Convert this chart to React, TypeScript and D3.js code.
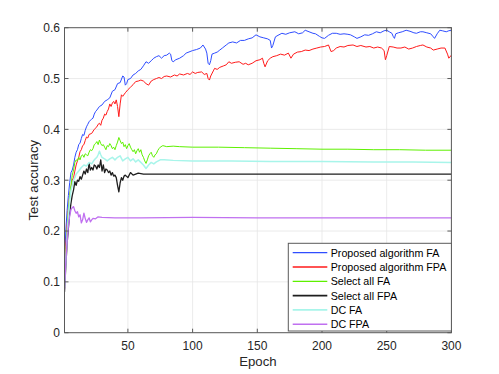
import * as d3 from "d3";
import { useEffect, useRef } from "react";

// [epoch, accuracy]
const proposedFA: [number, number][] = [
  [1, 0.14], [2, 0.2], [3, 0.24], [4, 0.27], [5, 0.295], [6, 0.315], [7, 0.32], [8, 0.33], [9, 0.345], [10, 0.355],
  [11, 0.36], [12, 0.37], [13, 0.373], [14, 0.382], [15, 0.39], [16, 0.388], [17, 0.398], [18, 0.405], [19, 0.41], [20, 0.415],
  [21, 0.418], [22, 0.42], [23, 0.422], [24, 0.43], [25, 0.435], [26, 0.438], [28, 0.445], [30, 0.448], [32, 0.455], [34, 0.458],
  [36, 0.462], [38, 0.475], [40, 0.478], [42, 0.49], [44, 0.492], [46, 0.505], [47, 0.503], [48, 0.487], [49, 0.49], [50, 0.498],
  [52, 0.5], [54, 0.507], [56, 0.51], [58, 0.515], [60, 0.518], [62, 0.525], [64, 0.533], [66, 0.53], [68, 0.535], [70, 0.54],
  [72, 0.543], [74, 0.545], [76, 0.54], [78, 0.545], [80, 0.546], [82, 0.55], [83, 0.548], [84, 0.535], [85, 0.533], [87, 0.537],
  [90, 0.54], [93, 0.545], [95, 0.55], [98, 0.553], [100, 0.555], [103, 0.557], [106, 0.56], [108, 0.566], [110, 0.558], [111, 0.55],
  [112, 0.53], [113, 0.527], [114, 0.535], [115, 0.548], [117, 0.55], [119, 0.552], [121, 0.556], [123, 0.56], [126, 0.566], [128, 0.57],
  [131, 0.572], [134, 0.57], [137, 0.575], [140, 0.575], [143, 0.578], [146, 0.58], [149, 0.586], [152, 0.582], [155, 0.58], [158, 0.578],
  [160, 0.575], [161, 0.56], [162, 0.565], [164, 0.582], [166, 0.585], [169, 0.589], [172, 0.587], [175, 0.59], [179, 0.592], [182, 0.588],
  [185, 0.59], [187, 0.595], [190, 0.592], [193, 0.589], [195, 0.588], [198, 0.583], [200, 0.58], [202, 0.579], [205, 0.585], [208, 0.589],
  [211, 0.589], [214, 0.587], [217, 0.588], [220, 0.587], [222, 0.586], [225, 0.582], [227, 0.579], [230, 0.582], [233, 0.586], [236, 0.585],
  [239, 0.588], [242, 0.592], [245, 0.59], [248, 0.594], [250, 0.595], [252, 0.592], [254, 0.589], [255, 0.583], [256, 0.579], [257, 0.588],
  [259, 0.59], [262, 0.592], [265, 0.595], [268, 0.593], [271, 0.59], [273, 0.589], [276, 0.592], [278, 0.592], [281, 0.59], [284, 0.588],
  [286, 0.582], [287, 0.579], [289, 0.588], [291, 0.595], [293, 0.594], [296, 0.592], [298, 0.594], [300, 0.595],
];

const proposedFPA: [number, number][] = [
  [1, 0.12], [2, 0.17], [3, 0.21], [4, 0.245], [5, 0.27], [6, 0.285], [7, 0.3], [8, 0.305], [9, 0.318], [10, 0.33],
  [11, 0.338], [12, 0.345], [13, 0.356], [14, 0.36], [15, 0.368], [16, 0.37], [17, 0.378], [18, 0.385], [19, 0.383], [20, 0.39],
  [22, 0.392], [24, 0.4], [26, 0.405], [27, 0.41], [28, 0.412], [29, 0.408], [30, 0.418], [31, 0.422], [32, 0.43], [33, 0.428],
  [34, 0.435], [35, 0.44], [36, 0.45], [37, 0.445], [38, 0.452], [39, 0.455], [40, 0.45], [41, 0.458], [42, 0.445], [43, 0.425],
  [44, 0.45], [45, 0.468], [46, 0.465], [48, 0.472], [50, 0.478], [52, 0.483], [54, 0.488], [56, 0.494], [58, 0.495], [60, 0.497],
  [62, 0.495], [64, 0.49], [66, 0.487], [68, 0.495], [70, 0.498], [72, 0.5], [74, 0.502], [76, 0.5], [78, 0.504], [80, 0.505],
  [83, 0.503], [86, 0.507], [88, 0.505], [90, 0.509], [93, 0.507], [96, 0.51], [98, 0.508], [100, 0.513], [102, 0.51], [104, 0.512],
  [107, 0.513], [109, 0.508], [111, 0.51], [112, 0.5], [113, 0.497], [114, 0.505], [116, 0.515], [117, 0.52], [119, 0.518], [121, 0.522],
  [124, 0.525], [126, 0.527], [128, 0.533], [130, 0.53], [133, 0.532], [136, 0.533], [139, 0.528], [141, 0.53], [143, 0.527], [146, 0.53],
  [149, 0.535], [152, 0.537], [154, 0.54], [155, 0.53], [156, 0.523], [158, 0.535], [160, 0.54], [162, 0.543], [165, 0.545], [168, 0.548],
  [171, 0.546], [174, 0.55], [176, 0.54], [178, 0.548], [181, 0.552], [184, 0.553], [187, 0.556], [190, 0.555], [193, 0.558], [196, 0.56],
  [199, 0.562], [202, 0.563], [205, 0.566], [207, 0.553], [209, 0.555], [211, 0.56], [214, 0.563], [217, 0.562], [220, 0.565], [224, 0.566],
  [227, 0.563], [230, 0.565], [234, 0.562], [237, 0.563], [240, 0.56], [243, 0.562], [246, 0.56], [248, 0.555], [249, 0.537], [250, 0.545],
  [252, 0.563], [255, 0.562], [258, 0.56], [261, 0.56], [264, 0.562], [267, 0.558], [270, 0.56], [273, 0.563], [276, 0.565], [278, 0.566],
  [281, 0.562], [284, 0.56], [286, 0.556], [289, 0.558], [292, 0.56], [295, 0.56], [297, 0.548], [298, 0.54], [300, 0.546],
];

const selectAllFA: [number, number][] = [
  [1, 0.1], [2, 0.15], [3, 0.2], [4, 0.24], [5, 0.27], [6, 0.29], [7, 0.31], [8, 0.32], [9, 0.335], [10, 0.34],
  [11, 0.338], [12, 0.345], [13, 0.34], [14, 0.348], [15, 0.35], [16, 0.345], [17, 0.352], [18, 0.35], [19, 0.348], [20, 0.355],
  [21, 0.36], [22, 0.358], [23, 0.362], [24, 0.37], [25, 0.372], [26, 0.376], [27, 0.37], [28, 0.379], [29, 0.372], [30, 0.368],
  [31, 0.37], [32, 0.365], [33, 0.36], [34, 0.368], [35, 0.366], [36, 0.372], [37, 0.368], [38, 0.362], [39, 0.365], [40, 0.36],
  [41, 0.368], [42, 0.375], [43, 0.384], [44, 0.378], [45, 0.372], [46, 0.375], [47, 0.366], [48, 0.37], [49, 0.362], [50, 0.368],
  [51, 0.372], [52, 0.365], [53, 0.36], [54, 0.356], [55, 0.36], [56, 0.352], [57, 0.358], [58, 0.362], [59, 0.355], [60, 0.36],
  [61, 0.35], [62, 0.345], [63, 0.338], [64, 0.333], [65, 0.34], [66, 0.348], [67, 0.352], [68, 0.355], [69, 0.348], [70, 0.345],
  [71, 0.35], [72, 0.352], [73, 0.358], [74, 0.362], [75, 0.365], [77, 0.368], [80, 0.366], [85, 0.367], [90, 0.366], [100, 0.365],
  [120, 0.365], [140, 0.364], [160, 0.363], [180, 0.362], [200, 0.361], [220, 0.361], [240, 0.36], [260, 0.36], [280, 0.359], [300, 0.359],
];

const selectAllFPA: [number, number][] = [
  [1, 0.08], [2, 0.13], [3, 0.175], [4, 0.205], [5, 0.235], [6, 0.255], [7, 0.27], [8, 0.281], [9, 0.297], [10, 0.29],
  [11, 0.3], [12, 0.298], [13, 0.307], [14, 0.302], [15, 0.31], [16, 0.318], [17, 0.312], [18, 0.322], [19, 0.315], [20, 0.333],
  [21, 0.32], [22, 0.325], [23, 0.32], [24, 0.33], [25, 0.328], [26, 0.322], [27, 0.33], [28, 0.325], [29, 0.34], [30, 0.318],
  [31, 0.33], [32, 0.315], [33, 0.322], [34, 0.32], [35, 0.315], [36, 0.318], [37, 0.31], [38, 0.315], [39, 0.308], [40, 0.31],
  [41, 0.305], [42, 0.29], [43, 0.277], [44, 0.295], [45, 0.305], [46, 0.3], [47, 0.308], [48, 0.31], [50, 0.305], [52, 0.315],
  [54, 0.31], [56, 0.312], [58, 0.314], [62, 0.312], [70, 0.312], [100, 0.312], [150, 0.312], [200, 0.312], [250, 0.312], [300, 0.312],
];

const dcFA: [number, number][] = [
  [1, 0.09], [2, 0.14], [3, 0.19], [4, 0.23], [5, 0.26], [6, 0.28], [7, 0.29], [8, 0.3], [9, 0.305], [10, 0.312],
  [12, 0.318], [14, 0.325], [16, 0.33], [18, 0.328], [20, 0.335], [22, 0.332], [24, 0.34], [26, 0.345], [27, 0.35], [28, 0.357],
  [29, 0.35], [30, 0.345], [32, 0.342], [34, 0.338], [36, 0.342], [38, 0.345], [40, 0.34], [42, 0.345], [44, 0.348], [46, 0.338],
  [48, 0.342], [50, 0.345], [52, 0.338], [54, 0.342], [56, 0.336], [58, 0.34], [60, 0.335], [62, 0.33], [64, 0.323], [66, 0.33],
  [68, 0.335], [70, 0.332], [72, 0.336], [75, 0.34], [78, 0.34], [85, 0.339], [100, 0.338], [130, 0.338], [160, 0.337], [200, 0.337],
  [240, 0.336], [270, 0.336], [300, 0.335],
];

const dcFPA: [number, number][] = [
  [1, 0.085], [2, 0.14], [3, 0.18], [4, 0.21], [5, 0.23], [6, 0.242], [7, 0.246], [8, 0.248], [9, 0.24], [10, 0.235],
  [11, 0.238], [12, 0.228], [13, 0.232], [14, 0.216], [15, 0.222], [16, 0.235], [17, 0.225], [18, 0.217], [19, 0.222], [20, 0.226],
  [21, 0.218], [22, 0.222], [23, 0.225], [25, 0.224], [27, 0.228], [30, 0.227], [40, 0.226], [60, 0.226], [100, 0.227], [150, 0.226],
  [200, 0.226], [250, 0.226], [300, 0.226],
];

const seriesNames = [
  "Proposed algorithm FA",
  "Proposed algorithm FPA",
  "Select all FA",
  "Select all FPA",
  "DC FA",
  "DC FPA",
];
const seriesColors = ["#2f4dff", "#ff1a1a", "#5ef000", "#1e1e1e", "#a8f5ea", "#c070f0"];
const seriesWidths = [1, 1, 1, 1.3, 1.5, 1.3];
const xTicks = [50, 100, 150, 200, 250, 300];
const yTicks = [0, 0.1, 0.2, 0.3, 0.4, 0.5, 0.6];

export default function App() {
  const ref = useRef<SVGSVGElement>(null);

  useEffect(() => {
    const W = 499;
    const H = 374;
    const left = 64.5, right = 451.4, top = 27.7, bottom = 332.7;
    const font = "'Liberation Sans', Arial, Helvetica, sans-serif";
    const axisColor = "#5a5a5a";

    const svg = d3.select(ref.current);
    svg.selectAll("*").remove();
    svg.attr("width", W).attr("height", H).attr("viewBox", `0 0 ${W} ${H}`);

    const x = d3.scaleLinear().domain([1, 300]).range([left, right]);
    const y = d3.scaleLinear().domain([0, 0.6]).range([bottom, top]);

    svg.append("rect").attr("width", W).attr("height", H).attr("fill", "#fff");

    // grid
    const grid = svg.append("g").attr("stroke", "#e6e6e6").attr("stroke-width", 0.8);
    grid.selectAll("line.gx").data(xTicks).join("line")
      .attr("x1", d => x(d)).attr("x2", d => x(d)).attr("y1", top).attr("y2", bottom);
    grid.selectAll("line.gy").data(yTicks).join("line")
      .attr("y1", d => y(d)).attr("y2", d => y(d)).attr("x1", left).attr("x2", right);

    svg.append("clipPath").attr("id", "plot-clip")
      .append("rect").attr("x", left).attr("y", top).attr("width", right - left).attr("height", bottom - top);

    const line = d3.line<[number, number]>().x(d => x(d[0])).y(d => y(d[1]));
    const all = [proposedFA, proposedFPA, selectAllFA, selectAllFPA, dcFA, dcFPA];
    const lines = svg.append("g").attr("clip-path", "url(#plot-clip)");
    all.forEach((s, i) => {
      lines.append("path")
        .attr("d", line(s))
        .attr("fill", "none")
        .attr("stroke", seriesColors[i])
        .attr("stroke-width", seriesWidths[i])
        .attr("stroke-linejoin", "round");
    });

    // axes box (MATLAB style, ticks inward on all four sides)
    const axis = svg.append("g").attr("stroke", axisColor).attr("stroke-width", 1);
    axis.append("rect").attr("x", left).attr("y", top).attr("width", right - left).attr("height", bottom - top)
      .attr("fill", "none");
    const tl = 4;
    xTicks.forEach(t => {
      axis.append("line").attr("x1", x(t)).attr("x2", x(t)).attr("y1", bottom).attr("y2", bottom - tl);
      axis.append("line").attr("x1", x(t)).attr("x2", x(t)).attr("y1", top).attr("y2", top + tl);
    });
    yTicks.forEach(t => {
      axis.append("line").attr("x1", left).attr("x2", left + tl).attr("y1", y(t)).attr("y2", y(t));
      axis.append("line").attr("x1", right).attr("x2", right - tl).attr("y1", y(t)).attr("y2", y(t));
    });

    svg.append("g").selectAll("text").data(xTicks).join("text")
      .attr("x", d => x(d)).attr("y", 350)
      .attr("text-anchor", "middle")
      .attr("font-family", font).attr("font-size", 12).attr("fill", "#262626")
      .text(d => d);

    svg.append("g").selectAll("text").data(yTicks).join("text")
      .attr("x", 60).attr("y", d => y(d) + 4.3)
      .attr("text-anchor", "end")
      .attr("font-family", font).attr("font-size", 12).attr("fill", "#262626")
      .text(d => (d === 0 ? "0" : d3.format(".1f")(d)));

    svg.append("text")
      .attr("x", (left + right) / 2).attr("y", 366)
      .attr("text-anchor", "middle")
      .attr("font-family", font).attr("font-size", 13.2).attr("fill", "#262626")
      .text("Epoch");

    svg.append("text")
      .attr("transform", `translate(38,${(top + bottom) / 2}) rotate(-90)`)
      .attr("text-anchor", "middle")
      .attr("font-family", font).attr("font-size", 13.2).attr("fill", "#262626")
      .text("Test accuracy");

    // legend
    const lx = 288.3, ly = 243.3, lw = right - lx, lh = 87.7, rowH = 14.3;
    const legend = svg.append("g");
    legend.append("rect")
      .attr("x", lx).attr("y", ly).attr("width", lw).attr("height", lh)
      .attr("fill", "#fff").attr("stroke", axisColor).attr("stroke-width", 1);
    seriesNames.forEach((name, i) => {
      const cy = ly + 9.4 + i * rowH;
      legend.append("line")
        .attr("x1", lx + 4.4).attr("x2", lx + 39).attr("y1", cy).attr("y2", cy)
        .attr("stroke", seriesColors[i]).attr("stroke-width", seriesWidths[i] + 0.3);
      legend.append("text")
        .attr("x", lx + 42.4).attr("y", cy + 3.9)
        .attr("font-family", font).attr("font-size", 10.7).attr("fill", "#000")
        .text(name);
    });
  }, []);

  return (
    <div style={{ position: "absolute", left: 0, top: 0 }}>
      <svg ref={ref} />
    </div>
  );
}
